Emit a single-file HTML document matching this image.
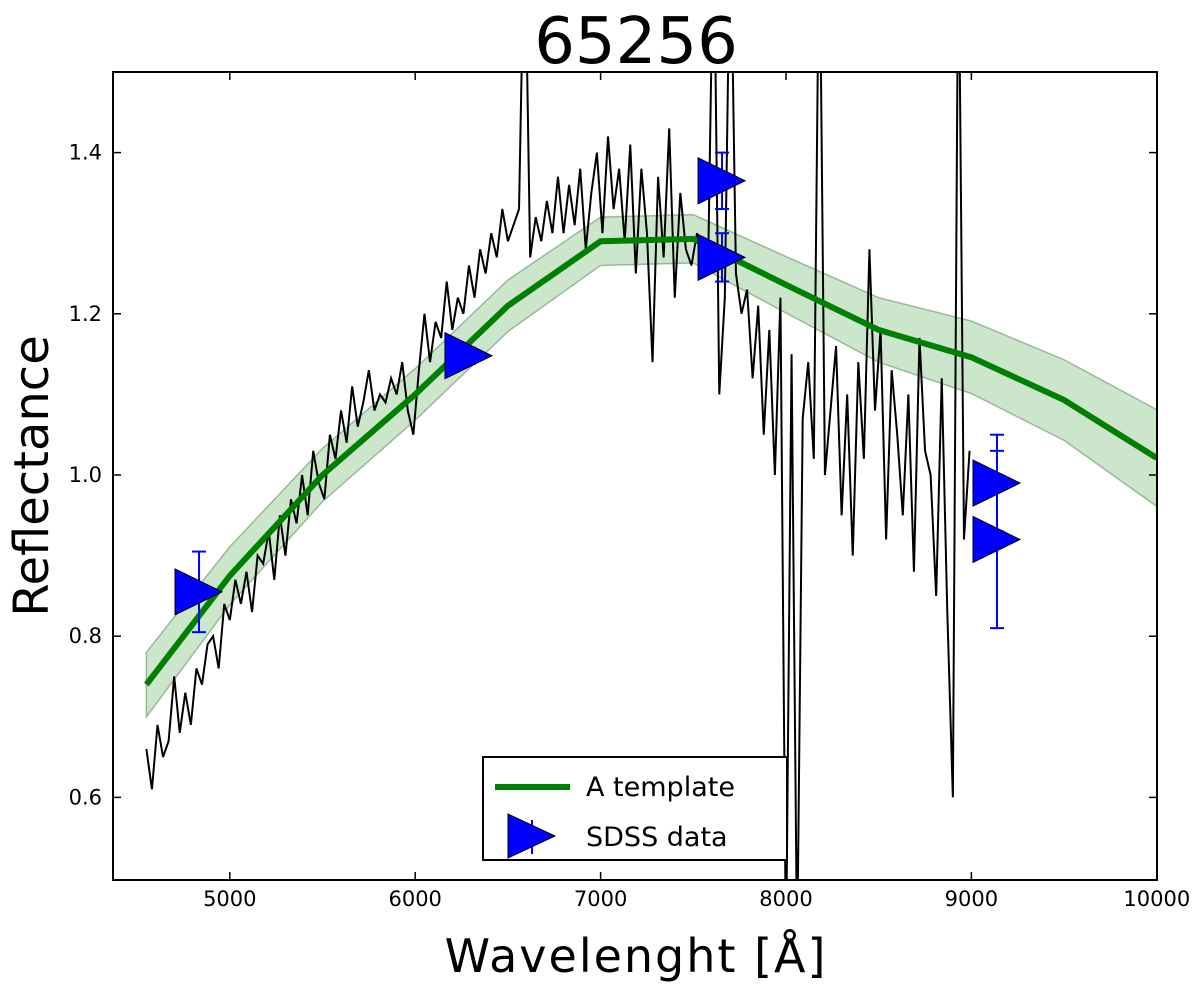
<!DOCTYPE html>
<html><head><meta charset="utf-8"><style>
body{margin:0;background:#fff;}
svg text{font-family:"DejaVu Sans","Liberation Sans",sans-serif;}
</style></head><body>
<svg id="chart" width="1200" height="993">
<defs><clipPath id="clip"><rect x="113" y="72" width="1044" height="808"/></clipPath></defs>
<g id="plot" clip-path="url(#clip)"></g>
<rect x="113" y="72" width="1044" height="808" fill="none" stroke="#000" stroke-width="2"/>
<g id="axes"></g>
<text x="636" y="63" font-size="64" text-anchor="middle">65256</text>
<text transform="translate(48,476) rotate(-90)" font-size="48" text-anchor="middle">Reflectance</text>
<text x="636" y="972" font-size="46" text-anchor="middle" letter-spacing="2">Wavelenght [Å]</text>
<g>
<rect x="483" y="757" width="304" height="103" fill="#fff" stroke="#000" stroke-width="2"/>
<line x1="495" y1="787" x2="570" y2="787" stroke="#008000" stroke-width="6"/>
<text x="586" y="796" font-size="27">A template</text>
<line x1="532" y1="820" x2="532" y2="854" stroke="#0000ff" stroke-width="2"/>
<polygon points="508,814 508,858 555,836" fill="#0000ff" stroke="#000" stroke-width="1"/>
<text x="586" y="846" font-size="27">SDSS data</text>
</g>
</svg>
<script>
const specStart = 4550, specStep = 30;
const specValues = [0.66,0.61,0.69,0.65,0.67,0.75,0.68,0.73,0.69,0.76,
0.74,0.79,0.80,0.76,0.84,0.82,0.87,0.84,0.88,0.83,0.90,
0.89,0.93,0.87,0.95,0.90,0.97,0.94,1.00,0.95,1.03,0.99,
0.97,1.05,1.02,1.08,1.04,1.11,1.06,1.09,1.13,1.08,1.10,
1.09,1.12,1.10,1.14,1.08,1.05,1.13,1.20,1.14,1.19,1.17,
1.24,1.18,1.22,1.20,1.26,1.22,1.28,1.25,1.30,1.27,1.33,
1.29,1.31,1.33,1.70,1.27,1.32,1.29,1.34,1.30,1.37,1.30,
1.36,1.31,1.38,1.28,1.35,1.40,1.30,1.42,1.33,1.38,1.29,
1.41,1.25,1.38,1.30,1.14,1.37,1.27,1.43,1.22,1.35,1.28,
1.26,1.30,1.28,1.26,1.70,1.10,1.22,1.70,1.25,1.20,1.23,
1.12,1.21,1.05,1.18,1.00,1.22,0.40,1.15,0.40,1.07,1.14,
1.02,1.70,1.00,1.08,1.16,0.95,1.10,0.90,1.14,1.02,1.28,
1.08,1.18,0.92,1.13,1.05,0.95,1.10,0.88,1.17,1.03,1.00,
0.85,1.12,0.83,0.60,1.70,0.92,1.03];
const tmplWl = [4550,5000,5500,6000,6500,7000,7500,8000,8500,9000,9500,10000];
const tmplVal = [0.74,0.875,1.0,1.1,1.21,1.29,1.293,1.236,1.18,1.146,1.093,1.021];
const tmplErr = [0.04,0.036,0.033,0.032,0.032,0.03,0.03,0.035,0.04,0.045,0.05,0.06];
const sdssWl = [4834,6290,7655,7655,9138,9138];
const sdssVal = [0.855,1.148,1.365,1.27,0.99,0.92];
const sdssErr = [0.05,0.01,0.035,0.03,0.06,0.11];
const xTicks = [5000,6000,7000,8000,9000,10000];
const yTicks = [0.6,0.8,1.0,1.2,1.4];
const yTickLabels = ["0.6","0.8","1.0","1.2","1.4"];

const X = w => 113 + (w - 4370) * 0.1854;
const Y = v => 72 + (1.5 - v) * 806;
const NS = "http://www.w3.org/2000/svg";
const plot = document.getElementById('plot');
const axes = document.getElementById('axes');
function mk(tag, attrs, parent){const e=document.createElementNS(NS,tag);for(const k in attrs)e.setAttribute(k,attrs[k]);parent.appendChild(e);return e;}

let up = tmplWl.map((w,i)=>X(w)+','+Y(tmplVal[i]+tmplErr[i]));
let dn = tmplWl.map((w,i)=>X(w)+','+Y(tmplVal[i]-tmplErr[i])).reverse();
const band = mk('polygon',{points:up.concat(dn).join(' '),fill:'#008000','fill-opacity':'0.2',stroke:'#6a8f6a','stroke-opacity':'0.6','stroke-width':'1.5'},plot);



const spec = mk('polyline',{points:specValues.map((v,i)=>X(specStart+specStep*i)+','+Y(v)).join(' '),fill:'none',stroke:'#000','stroke-width':'2','stroke-linejoin':'miter'},plot);



const tl = mk('polyline',{points:tmplWl.map((w,i)=>X(w)+','+Y(tmplVal[i])).join(' '),fill:'none',stroke:'#008000','stroke-width':'6'},plot);



sdssWl.forEach((w,i)=>{
  const x=X(w), y=Y(sdssVal[i]), y1=Y(sdssVal[i]+sdssErr[i]), y2=Y(sdssVal[i]-sdssErr[i]);
  const g=mk('g',{},plot);
  
  
  mk('line',{x1:x,y1:y1,x2:x,y2:y2,stroke:'#0000ff','stroke-width':'2'},g);
  mk('line',{x1:x-7,y1:y1,x2:x+7,y2:y1,stroke:'#0000ff','stroke-width':'2'},g);
  mk('line',{x1:x-7,y1:y2,x2:x+7,y2:y2,stroke:'#0000ff','stroke-width':'2'},g);
  mk('polygon',{points:`${x-24},${y-23} ${x-24},${y+23} ${x+23},${y}`,fill:'#0000ff',stroke:'#000','stroke-width':'1'},g);
});

xTicks.forEach(t=>{
  const x=X(t);
  mk('line',{x1:x,y1:880,x2:x,y2:872,stroke:'#000','stroke-width':'1.5'},axes);
  mk('line',{x1:x,y1:72,x2:x,y2:80,stroke:'#000','stroke-width':'1.5'},axes);
  const tx=mk('text',{x:x,y:906,'font-size':'21','text-anchor':'middle'},axes);
  tx.textContent=t;
  
  
});
yTicks.forEach((t,i)=>{
  const y=Y(t);
  mk('line',{x1:113,y1:y,x2:121,y2:y,stroke:'#000','stroke-width':'1.5'},axes);
  mk('line',{x1:1157,y1:y,x2:1149,y2:y,stroke:'#000','stroke-width':'1.5'},axes);
  const tx=mk('text',{x:102,y:y+7,'font-size':'21','text-anchor':'end'},axes);
  tx.textContent=yTickLabels[i];
  
  
});
</script>
</body></html>
